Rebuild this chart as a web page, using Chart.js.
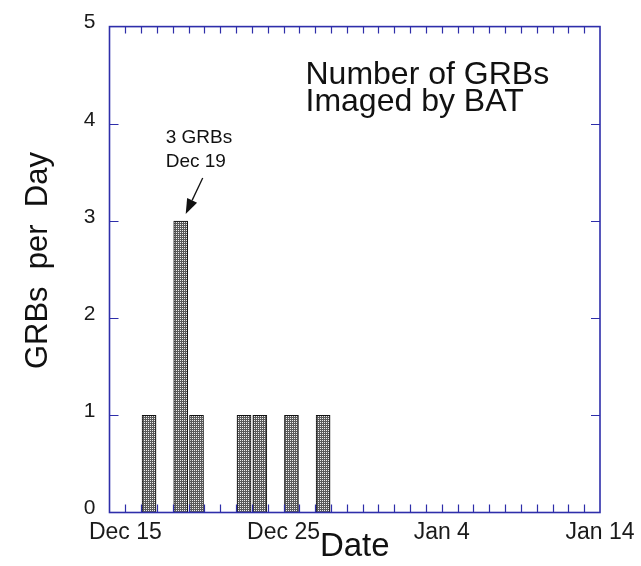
<!DOCTYPE html>
<html>
<head>
<meta charset="utf-8">
<title>Number of GRBs Imaged by BAT</title>
<script src="https://cdn.jsdelivr.net/npm/chart.js@4.4.1/dist/chart.umd.min.js"></script>
<style>
  html, body { margin: 0; padding: 0; background: #ffffff; }
  #c { display: block; }
</style>
</head>
<body>
<canvas id="c" width="641" height="566"></canvas>
<script>
// Days are counted from Dec 1, so Jan 4 = 35 and Jan 14 = 45.
const burstDay = [17, 19, 20, 23, 24, 26, 28];
const grbCount = [1, 3, 1, 1, 1, 1, 1];
const dateTickDays = [15, 25, 35, 45];
const dateTickLabels = ['Dec 15', 'Dec 25', 'Jan 4', 'Jan 14'];
const countTicks = [0, 1, 2, 3, 4, 5];
const titleLines = ['Number of GRBs', 'Imaged by BAT'];
const noteLines = ['3 GRBs', 'Dec 19'];
const noteDay = 19;
const yAxisTitle = 'GRBs  per  Day';

const FONT = '"Liberation Sans", Arial, Helvetica, sans-serif';
const AXIS_BLUE = '#2e2eaa';
const X_MIN = 14, X_MAX = 45, Y_MIN = 0, Y_MAX = 5;

// Stippled grey fill for the bars: light dots on a dark grid
function stipplePattern(ctx) {
  const p = document.createElement('canvas');
  p.width = 2; p.height = 2;
  const g = p.getContext('2d');
  g.fillStyle = '#5a5a5a';
  g.fillRect(0, 0, 2, 2);
  g.fillStyle = '#eeeeee';
  g.fillRect(0, 0, 1, 1);
  return ctx.createPattern(p, 'repeat');
}

// Each bar covers the day that ends at its date tick
const barData = burstDay.map((d, i) => ({ x: d - 0.5, y: grbCount[i] }));

// Boxed frame with inward daily ticks and inward count ticks
const frameAndTicks = {
  id: 'frameAndTicks',
  afterDatasetsDraw(chart) {
    const { ctx, chartArea: a, scales: { x, y } } = chart;
    ctx.save();
    ctx.strokeStyle = AXIS_BLUE;
    ctx.lineWidth = 1.2;
    ctx.beginPath();
    for (let d = X_MIN + 1; d < X_MAX; d++) {
      const px = Math.round(x.getPixelForValue(d)) + 0.5;
      ctx.moveTo(px, a.bottom); ctx.lineTo(px, a.bottom - 8);
      ctx.moveTo(px, a.top); ctx.lineTo(px, a.top + 7);
    }
    for (let v = Y_MIN + 1; v < Y_MAX; v++) {
      const py = Math.round(y.getPixelForValue(v)) + 0.5;
      ctx.moveTo(a.left, py); ctx.lineTo(a.left + 9, py);
      ctx.moveTo(a.right, py); ctx.lineTo(a.right - 9, py);
    }
    ctx.stroke();
    ctx.lineWidth = 1.6;
    ctx.strokeRect(a.left, a.top, a.right - a.left, a.bottom - a.top);
    ctx.restore();
  }
};

// Title block, vertical axis title and the arrow note pointing at the tallest bar
const notes = {
  id: 'notes',
  afterDraw(chart) {
    const { ctx, chartArea: a, scales: { x, y } } = chart;
    ctx.save();
    ctx.fillStyle = '#111';
    ctx.textAlign = 'left';
    ctx.textBaseline = 'alphabetic';
    ctx.font = '32px ' + FONT;
    ctx.fillText(titleLines[0], a.left + 196, a.top + 57);
    ctx.fillText(titleLines[1], a.left + 196, a.top + 84);

    ctx.save();
    ctx.translate(a.left - 71, (a.top + a.bottom) / 2 - 9);
    ctx.rotate(-Math.PI / 2);
    ctx.textAlign = 'center';
    ctx.textBaseline = 'middle';
    ctx.font = '31px ' + FONT;
    ctx.fillText(yAxisTitle, 0, 0);
    ctx.restore();

    const i = burstDay.indexOf(noteDay);
    const tipX = x.getPixelForValue(burstDay[i] - 0.5) + 5;
    const tipY = y.getPixelForValue(grbCount[i]) - 7;
    const tailX = tipX + 17, tailY = tipY - 36;
    ctx.font = '19px ' + FONT;
    ctx.fillText(noteLines[0], tipX - 20, tipY - 71);
    ctx.fillText(noteLines[1], tipX - 20, tipY - 47);

    const ang = Math.atan2(tipY - tailY, tipX - tailX);
    const headLen = 15, headHalf = 5.5;
    const bx = tipX - headLen * Math.cos(ang), by = tipY - headLen * Math.sin(ang);
    ctx.strokeStyle = '#111';
    ctx.lineWidth = 1.3;
    ctx.beginPath();
    ctx.moveTo(tailX, tailY);
    ctx.lineTo(bx, by);
    ctx.stroke();
    ctx.beginPath();
    ctx.moveTo(tipX, tipY);
    ctx.lineTo(bx + headHalf * Math.sin(ang), by - headHalf * Math.cos(ang));
    ctx.lineTo(bx - headHalf * Math.sin(ang), by + headHalf * Math.cos(ang));
    ctx.closePath();
    ctx.fill();
    ctx.restore();
  }
};

const canvas = document.getElementById('c');
const ctx = canvas.getContext('2d');

new Chart(ctx, {
  type: 'bar',
  data: {
    datasets: [{
      label: 'GRBs per Day',
      data: barData,
      backgroundColor: stipplePattern(ctx),
      borderColor: '#111111',
      borderWidth: 1,
      borderSkipped: 'start',
      barThickness: 14
    }]
  },
  options: {
    responsive: false,
    animation: false,
    devicePixelRatio: 1,
    layout: { padding: { top: 23, right: 41, left: 0, bottom: 0 } },
    plugins: {
      legend: { display: false },
      tooltip: { enabled: false },
      title: { display: false }
    },
    scales: {
      x: {
        type: 'linear',
        min: X_MIN,
        max: X_MAX,
        offset: false,
        grid: { display: false, drawTicks: false },
        border: { display: false },
        afterBuildTicks(s) { s.ticks = dateTickDays.map(v => ({ value: v })); },
        afterFit(s) { s.height = 53.5; },
        ticks: {
          autoSkip: false,
          maxRotation: 0,
          padding: 6,
          color: '#1a1a1a',
          font: { family: FONT, size: 23 },
          callback(v) {
            const k = dateTickDays.indexOf(v);
            return k >= 0 ? dateTickLabels[k] : '';
          }
        },
        title: {
          display: true,
          text: 'Date',
          color: '#111',
          font: { family: FONT, size: 33, lineHeight: 1 },
          padding: { top: 0, bottom: 3 }
        }
      },
      y: {
        type: 'linear',
        min: Y_MIN,
        max: Y_MAX,
        grid: { display: false, drawTicks: false },
        border: { display: false },
        afterBuildTicks(s) { s.ticks = countTicks.map(v => ({ value: v })); },
        afterFit(s) { s.width = 109.5; },
        ticks: {
          padding: 14,
          labelOffset: -4,
          color: '#1a1a1a',
          font: { family: FONT, size: 21 }
        },
        title: { display: false }
      }
    }
  },
  plugins: [frameAndTicks, notes]
});
</script>
</body>
</html>
